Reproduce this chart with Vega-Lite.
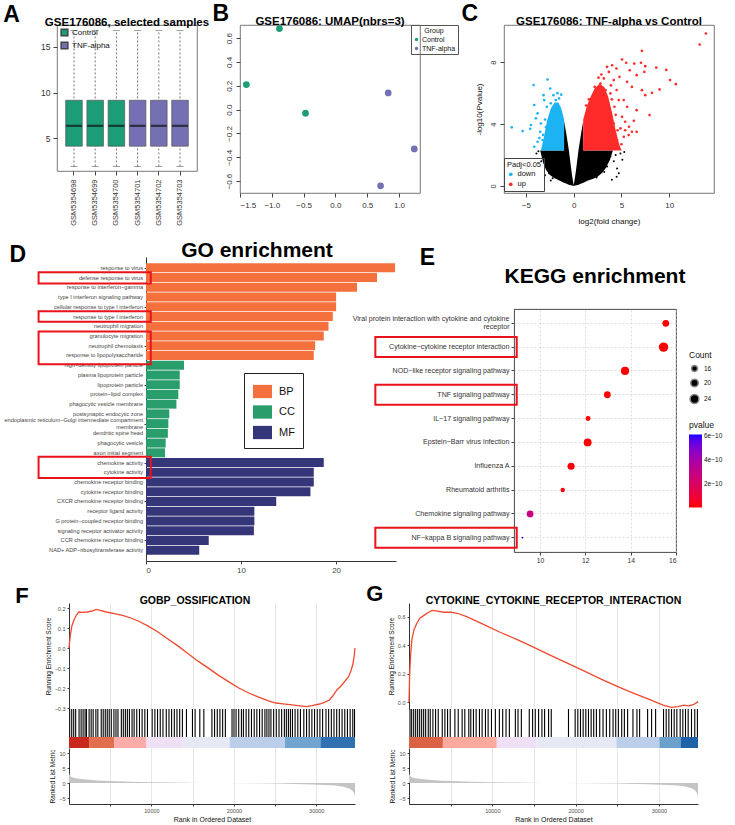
{
  "$schema": "https://vega.github.io/schema/vega-lite/v6.json",
  "background": "white",
  "padding": {"left": 0, "top": 3, "right": 0, "bottom": 0},
  "config": {
    "font": "Liberation Sans",
    "view": {"stroke": null},
    "axis": {"labelFont": "Liberation Sans", "titleFont": "Liberation Sans", "labelColor": "#333", "titleColor": "#111", "tickColor": "#444", "domainColor": "#444", "grid": false, "titleFontWeight": "normal", "labelFontSize": 8, "titleFontSize": 8, "tickSize": 3, "labelPadding": 2, "titlePadding": 4},
    "legend": {"labelFont": "Liberation Sans", "titleFont": "Liberation Sans", "titleFontWeight": "normal", "labelColor": "#111", "titleColor": "#111"},
    "title": {"font": "Liberation Sans", "fontWeight": "bold", "color": "#000"}
  },
  "datasets": {
    "boxes": [
      {"sample": "GSM5354698", "group": "Control", "lo": 1.9, "q1": 4.12, "med": 6.35, "q3": 9.15, "hi": 16.8},
      {"sample": "GSM5354699", "group": "Control", "lo": 1.9, "q1": 4.12, "med": 6.35, "q3": 9.15, "hi": 16.8},
      {"sample": "GSM5354700", "group": "Control", "lo": 1.9, "q1": 4.12, "med": 6.35, "q3": 9.15, "hi": 16.8},
      {"sample": "GSM5354701", "group": "TNF-alpha", "lo": 1.9, "q1": 4.12, "med": 6.35, "q3": 9.15, "hi": 16.8},
      {"sample": "GSM5354702", "group": "TNF-alpha", "lo": 1.9, "q1": 4.12, "med": 6.35, "q3": 9.15, "hi": 16.8},
      {"sample": "GSM5354703", "group": "TNF-alpha", "lo": 1.9, "q1": 4.12, "med": 6.35, "q3": 9.15, "hi": 16.8}
    ],
    "umap": [
      {"umap1": -1.40, "umap2": 0.21, "group": "Control"},
      {"umap1": -0.88, "umap2": 0.68, "group": "Control"},
      {"umap1": -0.47, "umap2": -0.03, "group": "Control"},
      {"umap1": 0.83, "umap2": 0.14, "group": "TNF-alpha"},
      {"umap1": 1.24, "umap2": -0.33, "group": "TNF-alpha"},
      {"umap1": 0.71, "umap2": -0.64, "group": "TNF-alpha"}
    ],
    "volcanoNs": [
      {"lfc": -3.5, "lo": 2.28, "hi": 2.3}, {"lfc": -3.2, "lo": 1.5, "hi": 2.3}, {"lfc": -2.9, "lo": 1.05, "hi": 2.3},
      {"lfc": -2.5, "lo": 0.72, "hi": 2.3}, {"lfc": -2.0, "lo": 0.5, "hi": 2.3}, {"lfc": -1.5, "lo": 0.35, "hi": 2.3},
      {"lfc": -1.02, "lo": 0.22, "hi": 2.3}, {"lfc": -1.0, "lo": 0.22, "hi": 4.2}, {"lfc": -0.75, "lo": 0.14, "hi": 3.3},
      {"lfc": -0.5, "lo": 0.08, "hi": 2.3}, {"lfc": -0.3, "lo": 0.05, "hi": 1.3}, {"lfc": -0.15, "lo": 0.03, "hi": 0.6},
      {"lfc": 0, "lo": 0, "hi": 0.05}, {"lfc": 0.15, "lo": 0.03, "hi": 0.6}, {"lfc": 0.3, "lo": 0.05, "hi": 1.3},
      {"lfc": 0.5, "lo": 0.08, "hi": 2.3}, {"lfc": 0.75, "lo": 0.14, "hi": 3.3}, {"lfc": 1.0, "lo": 0.22, "hi": 4.2},
      {"lfc": 1.02, "lo": 0.22, "hi": 2.3}, {"lfc": 1.5, "lo": 0.35, "hi": 2.3}, {"lfc": 2.0, "lo": 0.45, "hi": 2.3},
      {"lfc": 2.5, "lo": 0.6, "hi": 2.3}, {"lfc": 3.0, "lo": 0.85, "hi": 2.3}, {"lfc": 3.4, "lo": 1.2, "hi": 2.3},
      {"lfc": 3.8, "lo": 1.7, "hi": 2.3}, {"lfc": 4.1, "lo": 2.28, "hi": 2.3}
    ],
    "volcanoCore": [
      {"lfc": -3.4, "lo": 2.3, "hi": 2.4, "dir": "down"}, {"lfc": -3.1, "lo": 2.3, "hi": 3.2, "dir": "down"},
      {"lfc": -2.8, "lo": 2.3, "hi": 4.2, "dir": "down"}, {"lfc": -2.4, "lo": 2.3, "hi": 5.0, "dir": "down"},
      {"lfc": -2.0, "lo": 2.3, "hi": 5.4, "dir": "down"}, {"lfc": -1.6, "lo": 2.3, "hi": 5.4, "dir": "down"},
      {"lfc": -1.3, "lo": 2.3, "hi": 5.0, "dir": "down"}, {"lfc": -1.0, "lo": 2.3, "hi": 4.3, "dir": "down"},
      {"lfc": 1.0, "lo": 2.3, "hi": 4.3, "dir": "up"}, {"lfc": 1.4, "lo": 2.3, "hi": 5.2, "dir": "up"},
      {"lfc": 1.8, "lo": 2.3, "hi": 5.8, "dir": "up"}, {"lfc": 2.2, "lo": 2.3, "hi": 6.3, "dir": "up"},
      {"lfc": 2.7, "lo": 2.3, "hi": 6.6, "dir": "up"}, {"lfc": 3.2, "lo": 2.3, "hi": 6.4, "dir": "up"},
      {"lfc": 3.6, "lo": 2.3, "hi": 5.8, "dir": "up"}, {"lfc": 4.0, "lo": 2.3, "hi": 4.8, "dir": "up"},
      {"lfc": 4.4, "lo": 2.3, "hi": 3.6, "dir": "up"}, {"lfc": 4.8, "lo": 2.3, "hi": 2.6, "dir": "up"},
      {"lfc": 5.0, "lo": 2.3, "hi": 2.35, "dir": "up"}
    ],
    "volcanoNsPts": [
      {"lfc": -3.26, "nlp": 2.2}, {"lfc": -3.09, "nlp": 1.9}, {"lfc": 4.55, "nlp": 1.14}, {"lfc": 4.72, "nlp": 0.82},
      {"lfc": 3.85, "nlp": 1.9}, {"lfc": 3.5, "nlp": 1.26}, {"lfc": -2.74, "nlp": 1.26}, {"lfc": -2.57, "nlp": 0.82},
      {"lfc": -3.4, "nlp": 1.6}, {"lfc": -3.7, "nlp": 2.25}, {"lfc": 4.2, "nlp": 1.6}, {"lfc": 4.9, "nlp": 2.1},
      {"lfc": 3.2, "nlp": 0.9}, {"lfc": -2.2, "nlp": 0.5}, {"lfc": 2.4, "nlp": 0.55}, {"lfc": 5.1, "nlp": 1.7},
      {"lfc": -3.9, "nlp": 2.1}, {"lfc": 4.5, "nlp": 0.6}, {"lfc": 5.3, "nlp": 2.2}, {"lfc": 4.0, "nlp": 0.4},
      {"lfc": -3.0, "nlp": 0.7}, {"lfc": 4.4, "nlp": 2.0}, {"lfc": -2.4, "nlp": 0.35}
    ],
    "volcanoPts": [
      {"lfc": 13.85, "nlp": 9.85, "dir": "up"}, {"lfc": 13.2, "nlp": 9.14, "dir": "up"}, {"lfc": 7.15, "nlp": 8.73, "dir": "up"},
      {"lfc": 5.07, "nlp": 8.17, "dir": "up"}, {"lfc": 5.5, "nlp": 7.96, "dir": "up"}, {"lfc": 6.35, "nlp": 7.91, "dir": "up"},
      {"lfc": 7.05, "nlp": 7.96, "dir": "up"}, {"lfc": 7.5, "nlp": 7.74, "dir": "up"}, {"lfc": 8.65, "nlp": 7.65, "dir": "up"},
      {"lfc": 9.7, "nlp": 7.5, "dir": "up"}, {"lfc": 10.1, "nlp": 6.84, "dir": "up"}, {"lfc": 10.7, "nlp": 6.58, "dir": "up"},
      {"lfc": 9.0, "nlp": 6.24, "dir": "up"}, {"lfc": 8.2, "nlp": 6.02, "dir": "up"}, {"lfc": 7.5, "nlp": 5.87, "dir": "up"},
      {"lfc": 7.15, "nlp": 6.19, "dir": "up"}, {"lfc": 7.95, "nlp": 4.58, "dir": "up"}, {"lfc": 6.6, "nlp": 4.9, "dir": "up"},
      {"lfc": 6.3, "nlp": 4.21, "dir": "up"}, {"lfc": 6.1, "nlp": 3.5, "dir": "up"}, {"lfc": 5.8, "nlp": 3.83, "dir": "up"},
      {"lfc": 5.25, "nlp": 3.18, "dir": "up"}, {"lfc": 5.07, "nlp": 4.47, "dir": "up"}, {"lfc": 4.55, "nlp": 2.97, "dir": "up"},
      {"lfc": 4.8, "nlp": 7.05, "dir": "up"}, {"lfc": 4.48, "nlp": 7.59, "dir": "up"}, {"lfc": 5.87, "nlp": 7.48, "dir": "up"},
      {"lfc": 6.6, "nlp": 7.16, "dir": "up"}, {"lfc": 7.4, "nlp": 7.37, "dir": "up"}, {"lfc": 5.6, "nlp": 6.73, "dir": "up"},
      {"lfc": 6.1, "nlp": 6.4, "dir": "up"}, {"lfc": 4.2, "nlp": 6.84, "dir": "up"}, {"lfc": 4.03, "nlp": 7.8, "dir": "up"},
      {"lfc": 3.5, "nlp": 7.7, "dir": "up"}, {"lfc": 3.68, "nlp": 7.37, "dir": "up"}, {"lfc": 3.16, "nlp": 6.95, "dir": "up"},
      {"lfc": 2.81, "nlp": 6.62, "dir": "up"}, {"lfc": 4.72, "nlp": 5.55, "dir": "up"}, {"lfc": 5.24, "nlp": 5.55, "dir": "up"},
      {"lfc": 5.6, "nlp": 5.12, "dir": "up"}, {"lfc": 4.27, "nlp": 5.12, "dir": "up"}, {"lfc": 3.85, "nlp": 5.98, "dir": "up"},
      {"lfc": 3.33, "nlp": 6.19, "dir": "up"}, {"lfc": 2.47, "nlp": 5.98, "dir": "up"}, {"lfc": 1.95, "nlp": 5.55, "dir": "up"},
      {"lfc": 1.77, "nlp": 5.12, "dir": "up"}, {"lfc": 4.9, "nlp": 3.72, "dir": "up"}, {"lfc": 4.2, "nlp": 4.04, "dir": "up"},
      {"lfc": 5.4, "nlp": 4.15, "dir": "up"}, {"lfc": 6.6, "nlp": 3.5, "dir": "up"}, {"lfc": 5.76, "nlp": 3.29, "dir": "up"},
      {"lfc": 4.72, "nlp": 2.54, "dir": "up"}, {"lfc": 3.85, "nlp": 2.75, "dir": "up"}, {"lfc": 3.5, "nlp": 3.5, "dir": "up"},
      {"lfc": 3.44, "nlp": 4.26, "dir": "up"}, {"lfc": 3.0, "nlp": 4.9, "dir": "up"}, {"lfc": 2.2, "nlp": 6.4, "dir": "up"},
      {"lfc": 2.9, "nlp": 7.2, "dir": "up"}, {"lfc": 3.9, "nlp": 6.5, "dir": "up"}, {"lfc": 4.5, "nlp": 6.2, "dir": "up"},
      {"lfc": 4.0, "nlp": 5.6, "dir": "up"}, {"lfc": 4.4, "nlp": 4.6, "dir": "up"}, {"lfc": 3.8, "nlp": 4.0, "dir": "up"},
      {"lfc": 4.1, "nlp": 3.2, "dir": "up"}, {"lfc": 3.7, "nlp": 2.6, "dir": "up"}, {"lfc": 5.0, "nlp": 2.7, "dir": "up"},
      {"lfc": 5.4, "nlp": 3.6, "dir": "up"}, {"lfc": 4.6, "nlp": 3.6, "dir": "up"}, {"lfc": 2.6, "nlp": 7.0, "dir": "up"},
      {"lfc": 1.6, "nlp": 5.6, "dir": "up"}, {"lfc": 1.3, "nlp": 5.2, "dir": "up"},
      {"lfc": -6.49, "nlp": 3.79, "dir": "down"}, {"lfc": -5.35, "nlp": 3.55, "dir": "down"}, {"lfc": -4.48, "nlp": 3.94, "dir": "down"},
      {"lfc": -4.2, "nlp": 6.52, "dir": "down"}, {"lfc": -2.74, "nlp": 6.88, "dir": "down"}, {"lfc": -2.46, "nlp": 6.3, "dir": "down"},
      {"lfc": -3.16, "nlp": 5.87, "dir": "down"}, {"lfc": -3.09, "nlp": 5.55, "dir": "down"}, {"lfc": -4.13, "nlp": 5.23, "dir": "down"},
      {"lfc": -3.78, "nlp": 4.69, "dir": "down"}, {"lfc": -3.44, "nlp": 4.04, "dir": "down"}, {"lfc": -4.13, "nlp": 2.54, "dir": "down"},
      {"lfc": -3.78, "nlp": 2.86, "dir": "down"}, {"lfc": -3.26, "nlp": 2.97, "dir": "down"}, {"lfc": -3.51, "nlp": 3.5, "dir": "down"},
      {"lfc": -3.96, "nlp": 4.37, "dir": "down"}, {"lfc": -4.55, "nlp": 3.7, "dir": "down"}, {"lfc": -1.88, "nlp": 5.55, "dir": "down"},
      {"lfc": -2.05, "nlp": 4.9, "dir": "down"}, {"lfc": -2.81, "nlp": 5.12, "dir": "down"}, {"lfc": -2.4, "nlp": 5.34, "dir": "down"},
      {"lfc": -1.53, "nlp": 5.66, "dir": "down"}, {"lfc": -2.12, "nlp": 5.87, "dir": "down"}, {"lfc": -3.0, "nlp": 4.3, "dir": "down"},
      {"lfc": -3.2, "nlp": 3.3, "dir": "down"}, {"lfc": -2.9, "nlp": 3.8, "dir": "down"}, {"lfc": -3.6, "nlp": 3.1, "dir": "down"},
      {"lfc": -2.7, "nlp": 2.6, "dir": "down"}, {"lfc": -1.3, "nlp": 5.9, "dir": "down"}, {"lfc": -1.7, "nlp": 6.0, "dir": "down"}
    ],
    "go": [
      {"idx": 1, "term": "response to virus", "cat": "BP", "value": 26.2},
      {"idx": 2, "term": "defense response to virus", "cat": "BP", "value": 24.3},
      {"idx": 3, "term": "response to interferon−gamma", "cat": "BP", "value": 22.2},
      {"idx": 4, "term": "type I interferon signaling pathway", "cat": "BP", "value": 20.0},
      {"idx": 5, "term": "cellular response to type I interferon", "cat": "BP", "value": 20.0},
      {"idx": 6, "term": "response to type I interferon", "cat": "BP", "value": 19.65},
      {"idx": 7, "term": "neutrophil migration", "cat": "BP", "value": 19.2},
      {"idx": 8, "term": "granulocyte migration", "cat": "BP", "value": 18.7},
      {"idx": 9, "term": "neutrophil chemotaxis", "cat": "BP", "value": 17.8},
      {"idx": 10, "term": "response to lipopolysaccharide", "cat": "BP", "value": 17.65},
      {"idx": 11, "term": "high−density lipoprotein particle", "cat": "CC", "value": 4.0},
      {"idx": 12, "term": "plasma lipoprotein particle", "cat": "CC", "value": 3.55},
      {"idx": 13, "term": "lipoprotein particle", "cat": "CC", "value": 3.55},
      {"idx": 14, "term": "protein−lipid complex", "cat": "CC", "value": 3.4},
      {"idx": 15, "term": "phagocytic vesicle membrane", "cat": "CC", "value": 3.2},
      {"idx": 16, "term": "postsynaptic endocytic zone", "cat": "CC", "value": 2.45},
      {"idx": 17, "term": ["endoplasmic reticulum−Golgi intermediate compartment", "membrane"], "cat": "CC", "value": 2.35},
      {"idx": 18, "term": "dendritic spine head", "cat": "CC", "value": 2.3},
      {"idx": 19, "term": "phagocytic vesicle", "cat": "CC", "value": 2.07},
      {"idx": 20, "term": "axon initial segment", "cat": "CC", "value": 2.0},
      {"idx": 21, "term": "chemokine activity", "cat": "MF", "value": 18.7},
      {"idx": 22, "term": "cytokine activity", "cat": "MF", "value": 17.65},
      {"idx": 23, "term": "chemokine receptor binding", "cat": "MF", "value": 17.65},
      {"idx": 24, "term": "cytokine receptor binding", "cat": "MF", "value": 17.3},
      {"idx": 25, "term": "CXCR chemokine receptor binding", "cat": "MF", "value": 13.7},
      {"idx": 26, "term": "receptor ligand activity", "cat": "MF", "value": 11.4},
      {"idx": 27, "term": "G protein−coupled receptor binding", "cat": "MF", "value": 11.4},
      {"idx": 28, "term": "signaling receptor activator activity", "cat": "MF", "value": 11.35},
      {"idx": 29, "term": "CCR chemokine receptor binding", "cat": "MF", "value": 6.6},
      {"idx": 30, "term": "NAD+ ADP−ribosyltransferase activity", "cat": "MF", "value": 5.6}
    ],
    "goBoxes": [
      {"x1": -11.3, "x2": 0.5, "y1": 1.45, "y2": 2.6},
      {"x1": -11.3, "x2": 0.5, "y1": 5.45, "y2": 6.55},
      {"x1": -11.3, "x2": 0.5, "y1": 7.55, "y2": 10.9},
      {"x1": -11.3, "x2": 0.5, "y1": 20.4, "y2": 22.6}
    ],
    "kegg": [
      {"term": "Viral protein interaction with cytokine and cytokine receptor", "nlp": 15.55, "count": 18, "p": 2.8e-16},
      {"term": "Cytokine−cytokine receptor interaction", "nlp": 15.45, "count": 26, "p": 3.5e-16},
      {"term": "NOD−like receptor signaling pathway", "nlp": 13.75, "count": 22, "p": 1.8e-14},
      {"term": "TNF signaling pathway", "nlp": 12.97, "count": 18, "p": 1.1e-13},
      {"term": "IL−17 signaling pathway", "nlp": 12.12, "count": 14, "p": 7.6e-13},
      {"term": "Epstein−Barr virus infection", "nlp": 12.1, "count": 21, "p": 7.9e-13},
      {"term": "Influenza A", "nlp": 11.37, "count": 19, "p": 4.3e-12},
      {"term": "Rheumatoid arthritis", "nlp": 11.0, "count": 13, "p": 1.0e-11},
      {"term": "Chemokine signaling pathway", "nlp": 9.56, "count": 18, "p": 2.75e-10},
      {"term": "NF−kappa B signaling pathway", "nlp": 9.22, "count": 10, "p": 6.05e-10}
    ],
    "keggBoxes": [
      {"term": "Cytokine−cytokine receptor interaction", "a": 2.73, "b": 8.97},
      {"term": "TNF signaling pathway", "a": 2.73, "b": 8.97},
      {"term": "NF−kappa B signaling pathway", "a": 2.73, "b": 8.97}
    ],
    "esF": [
      {"rank": 0, "es": 0.0}, {"rank": 150, "es": 0.06}, {"rank": 350, "es": 0.11}, {"rank": 600, "es": 0.14},
      {"rank": 900, "es": 0.165}, {"rank": 1200, "es": 0.18}, {"rank": 1600, "es": 0.178}, {"rank": 2200, "es": 0.18},
      {"rank": 2800, "es": 0.185}, {"rank": 3300, "es": 0.193}, {"rank": 3800, "es": 0.188}, {"rank": 4500, "es": 0.18},
      {"rank": 5500, "es": 0.172}, {"rank": 6500, "es": 0.163}, {"rank": 7500, "es": 0.15}, {"rank": 8400, "es": 0.135},
      {"rank": 9500, "es": 0.112}, {"rank": 10800, "es": 0.08}, {"rank": 12000, "es": 0.045}, {"rank": 13300, "es": 0.008},
      {"rank": 14500, "es": -0.03}, {"rank": 15700, "es": -0.067}, {"rank": 17000, "es": -0.103}, {"rank": 18200, "es": -0.138},
      {"rank": 19500, "es": -0.172}, {"rank": 20600, "es": -0.2}, {"rank": 21800, "es": -0.225}, {"rank": 23100, "es": -0.247},
      {"rank": 24200, "es": -0.264}, {"rank": 25100, "es": -0.275}, {"rank": 26000, "es": -0.279}, {"rank": 26800, "es": -0.283},
      {"rank": 27800, "es": -0.288}, {"rank": 28800, "es": -0.293}, {"rank": 29500, "es": -0.288}, {"rank": 30400, "es": -0.28},
      {"rank": 31000, "es": -0.272}, {"rank": 31600, "es": -0.26}, {"rank": 32000, "es": -0.24}, {"rank": 32500, "es": -0.21},
      {"rank": 33000, "es": -0.19}, {"rank": 33400, "es": -0.17}, {"rank": 33900, "es": -0.145}, {"rank": 34200, "es": -0.115},
      {"rank": 34450, "es": -0.08}, {"rank": 34600, "es": -0.04}, {"rank": 34700, "es": 0.0}
    ],
    "esG": [
      {"rank": 0, "es": 0.0}, {"rank": 80, "es": 0.2}, {"rank": 200, "es": 0.34}, {"rank": 350, "es": 0.44},
      {"rank": 600, "es": 0.51}, {"rank": 900, "es": 0.55}, {"rank": 1300, "es": 0.59}, {"rank": 1800, "es": 0.61},
      {"rank": 2300, "es": 0.63}, {"rank": 2800, "es": 0.645}, {"rank": 3400, "es": 0.64}, {"rank": 4200, "es": 0.632},
      {"rank": 5000, "es": 0.633}, {"rank": 5800, "es": 0.625}, {"rank": 7000, "es": 0.6}, {"rank": 9000, "es": 0.545},
      {"rank": 11000, "es": 0.49}, {"rank": 13000, "es": 0.44}, {"rank": 15000, "es": 0.385}, {"rank": 17000, "es": 0.33},
      {"rank": 19000, "es": 0.275}, {"rank": 21000, "es": 0.22}, {"rank": 23000, "es": 0.165}, {"rank": 25000, "es": 0.112},
      {"rank": 27000, "es": 0.063}, {"rank": 29000, "es": 0.017}, {"rank": 30500, "es": -0.02}, {"rank": 31500, "es": -0.035},
      {"rank": 32300, "es": -0.03}, {"rank": 33000, "es": -0.02}, {"rank": 33600, "es": -0.025}, {"rank": 34200, "es": -0.015},
      {"rank": 34700, "es": 0.005}
    ],
    "hitsF": [80, 330, 570, 810, 1220, 1470, 1710, 1950, 2120, 2440, 2690, 2930, 3260, 3500, 3910, 4150, 4400, 4640, 4880, 5130, 5450, 5700, 5940, 6350, 6590, 6840, 7080, 7330, 7650, 7900, 8220, 8550, 8870, 9200, 9520, 10090, 10420, 10740, 11070, 11400, 11800, 12130, 12450, 12780, 13100, 13430, 13760, 14250, 14980, 15300, 15870, 16360, 17340, 17660, 17990, 18310, 18640, 18970, 19780, 20020, 20270, 20590, 20920, 21160, 21490, 21810, 22140, 22470, 22790, 23120, 23440, 23770, 24010, 24260, 24500, 24830, 25150, 25480, 25800, 26130, 26370, 26620, 26860, 27110, 27430, 27760, 28080, 28490, 28820, 29140, 29470, 29790, 30120, 30440, 30770, 31180, 31500, 31830, 32150, 32480, 32800, 33130, 33460, 33780, 34110, 34430, 34640],
    "hitsG": [120, 320, 560, 800, 1040, 1280, 1520, 1760, 2000, 2310, 2550, 2870, 3190, 3510, 3990, 4310, 4630, 4950, 5510, 5910, 6380, 6700, 7180, 7420, 7740, 8060, 8460, 8780, 9180, 9500, 9900, 10370, 10850, 11250, 11650, 12050, 12770, 13090, 13490, 14440, 14840, 15160, 15560, 15960, 16280, 16760, 17080, 19150, 19950, 20270, 20590, 20910, 21230, 21550, 21870, 22180, 22500, 22900, 23300, 23700, 24100, 24500, 24820, 25140, 25540, 25860, 26250, 26890, 27370, 27690, 28650, 29130, 29610, 30560, 30880, 31200, 31520, 31840, 32160, 32560, 32880, 33200, 33520, 33920, 34310, 34630],
    "stripF": [
      {"start": 0, "end": 2440, "level": 1.0}, {"start": 2440, "end": 5490, "level": 0.75},
      {"start": 5490, "end": 9400, "level": 0.42}, {"start": 9400, "end": 13800, "level": 0.12},
      {"start": 13800, "end": 19500, "level": -0.08}, {"start": 19500, "end": 26200, "level": -0.3},
      {"start": 26200, "end": 30500, "level": -0.62}, {"start": 30500, "end": 34700, "level": -0.92}
    ],
    "stripG": [
      {"start": 0, "end": 4070, "level": 0.8}, {"start": 4070, "end": 10540, "level": 0.45},
      {"start": 10540, "end": 15330, "level": 0.12}, {"start": 15330, "end": 24900, "level": -0.08},
      {"start": 24900, "end": 30060, "level": -0.3}, {"start": 30060, "end": 32600, "level": -0.65},
      {"start": 32600, "end": 34700, "level": -1.0}
    ],
    "metric": [
      {"rank": 0, "m": 3.5}, {"rank": 60, "m": 2.8}, {"rank": 200, "m": 2.2}, {"rank": 500, "m": 1.8},
      {"rank": 1000, "m": 1.5}, {"rank": 2000, "m": 1.15}, {"rank": 3500, "m": 0.85}, {"rank": 5000, "m": 0.65},
      {"rank": 7500, "m": 0.42}, {"rank": 10000, "m": 0.27}, {"rank": 13000, "m": 0.14}, {"rank": 16000, "m": 0.05},
      {"rank": 19000, "m": 0.0}, {"rank": 22000, "m": -0.08}, {"rank": 25000, "m": -0.18}, {"rank": 27500, "m": -0.3},
      {"rank": 29500, "m": -0.45}, {"rank": 31000, "m": -0.62}, {"rank": 32300, "m": -0.85}, {"rank": 33300, "m": -1.2},
      {"rank": 34000, "m": -1.8}, {"rank": 34400, "m": -2.6}, {"rank": 34600, "m": -3.5}, {"rank": 34700, "m": -4.5}
    ]
  },
  "resolve": {"scale": {"color": "independent", "size": "independent"}, "legend": {"color": "independent", "size": "independent"}},
  "spacing": 4,
  "vconcat": [
    {
      "spacing": 2,
      "resolve": {"scale": {"color": "independent", "size": "independent"}, "legend": {"color": "independent", "size": "independent"}},
      "hconcat": [
        {"width": 1, "height": 211, "data": {"values": []}, "mark": "point"},
        {
          "title": {"text": "A", "fontSize": 23, "anchor": "start", "frame": "bounds", "dx": -37, "offset": -11},
          "vconcat": [
            {
              "title": {"text": "GSE176086, selected samples", "fontSize": 11.5, "frame": "group", "offset": -3},
              "width": 140, "height": 146,
              "view": {"stroke": "#555", "strokeWidth": 0.8},
              "data": {"name": "boxes"},
              "encoding": {
                "x": {"field": "sample", "type": "nominal", "sort": null, "scale": {"paddingInner": 0, "paddingOuter": 0.3},
                      "axis": {"title": null, "labelAngle": -90, "labelFontSize": 7.5, "tickSize": 4, "domain": false, "labelPadding": 4}}
              },
              "layer": [
                {"mark": {"type": "rule", "strokeDash": [2, 2], "color": "#555", "strokeWidth": 0.8},
                 "encoding": {
                   "y": {"field": "lo", "type": "quantitative", "scale": {"domain": [1.4, 17.4], "nice": false, "zero": false},
                         "axis": {"title": null, "values": [5, 10, 15], "labelFontSize": 8.5, "tickSize": 4, "domain": false, "labelPadding": 3}},
                   "y2": {"field": "hi"}}},
                {"mark": {"type": "tick", "color": "#555", "thickness": 0.8, "size": 7}, "encoding": {"y": {"field": "lo", "type": "quantitative"}}},
                {"mark": {"type": "tick", "color": "#555", "thickness": 0.8, "size": 7}, "encoding": {"y": {"field": "hi", "type": "quantitative"}}},
                {"mark": {"type": "bar", "width": {"band": 0.78}, "stroke": "#555", "strokeWidth": 0.7},
                 "encoding": {
                   "y": {"field": "q1", "type": "quantitative"}, "y2": {"field": "q3"},
                   "color": {"field": "group", "type": "nominal", "scale": {"domain": ["Control", "TNF-alpha"], "range": ["#1B9E77", "#7570B3"]},
                             "legend": {"title": null, "orient": "top-left", "offset": 3, "labelFontSize": 8, "symbolType": "square", "symbolSize": 45, "symbolStrokeColor": "#444", "rowPadding": 0, "labelOffset": 3, "padding": 0}}}},
                {"mark": {"type": "tick", "color": "#111", "thickness": 2.2, "size": 16}, "encoding": {"y": {"field": "med", "type": "quantitative"}}}
              ]
            }
          ]
        },
        {
          "title": {"text": "B", "fontSize": 23, "anchor": "start", "frame": "bounds", "dx": -12, "offset": -11},
          "vconcat": [
            {
              "title": {"text": "GSE176086: UMAP(nbrs=3)", "fontSize": 11.5, "frame": "group", "offset": -2},
              "width": 180, "height": 168,
              "view": {"stroke": "#555", "strokeWidth": 0.8},
              "data": {"name": "umap"},
              "mark": {"type": "circle", "size": 45, "opacity": 1},
              "encoding": {
                "x": {"field": "umap1", "type": "quantitative", "scale": {"domain": [-1.5, 1.33], "nice": false, "zero": false},
                      "axis": {"title": null, "values": [-1.5, -1, -0.5, 0, 0.5, 1], "format": ".1f", "labelFontSize": 8, "tickSize": 4, "domain": false, "labelPadding": 4}},
                "y": {"field": "umap2", "type": "quantitative", "scale": {"domain": [-0.7, 0.71], "nice": false, "zero": false},
                      "axis": {"title": null, "values": [-0.6, -0.4, -0.2, 0, 0.2, 0.4, 0.6], "format": ".1f", "labelAngle": -90, "labelFontSize": 8, "tickSize": 4, "domain": false, "labelPadding": 3}},
                "color": {"field": "group", "type": "nominal", "scale": {"domain": ["Control", "TNF-alpha"], "range": ["#1B9E77", "#7570B3"]},
                          "legend": {"title": "Group", "orient": "right", "offset": -10, "strokeColor": "#555", "padding": 2, "titleFontSize": 7, "titleAnchor": "middle", "labelFontSize": 7, "symbolSize": 12, "rowPadding": 1, "titlePadding": 2, "labelOffset": 2}}
              }
            }
          ]
        },
        {
          "title": {"text": "C", "fontSize": 23, "anchor": "start", "frame": "bounds", "dx": -13, "offset": -11},
          "vconcat": [
            {
              "title": {"text": "GSE176086: TNF-alpha vs Control", "fontSize": 11.5, "frame": "group", "offset": -2},
              "width": 210, "height": 168,
              "view": {"stroke": "#555", "strokeWidth": 0.8},
              "layer": [
                {"data": {"name": "volcanoNs"}, "mark": {"type": "area", "color": "#000"},
                 "encoding": {
                   "x": {"field": "lfc", "type": "quantitative", "scale": {"domain": [-7.3, 14.7], "nice": false, "zero": false},
                         "axis": {"title": "log2(fold change)", "values": [-5, 0, 5, 10], "labelFontSize": 8, "titleFontSize": 8, "tickSize": 4, "domain": false, "labelPadding": 4, "titlePadding": 8}},
                   "y": {"field": "hi", "type": "quantitative", "scale": {"domain": [-0.45, 10.4], "nice": false, "zero": false},
                         "axis": {"title": "-log10(Pvalue)", "values": [0, 2, 4, 6, 8, 10], "labelAngle": -90, "labelFontSize": 7.5, "titleFontSize": 8, "tickSize": 4, "domain": false, "labelPadding": 3, "titlePadding": 6}},
                   "y2": {"field": "lo"}}},
                {"data": {"name": "volcanoCore"}, "mark": {"type": "area"},
                 "encoding": {
                   "x": {"field": "lfc", "type": "quantitative"},
                   "y": {"field": "hi", "type": "quantitative"}, "y2": {"field": "lo"},
                   "color": {"field": "dir", "type": "nominal", "scale": {"domain": ["down", "up"], "range": ["#1CB3F2", "#FF2B2B"]},
                             "legend": {"title": "Padj<0.05", "orient": "none", "legendX": 0, "legendY": 133, "strokeColor": "#444", "padding": 3, "titleFontSize": 7.5, "labelFontSize": 7.5, "symbolType": "circle", "symbolSize": 14, "rowPadding": 1, "titlePadding": 2, "labelOffset": 3}}}},
                {"data": {"name": "volcanoNsPts"}, "mark": {"type": "circle", "size": 4, "color": "#000", "opacity": 1},
                 "encoding": {"x": {"field": "lfc", "type": "quantitative"}, "y": {"field": "nlp", "type": "quantitative"}}},
                {"data": {"name": "volcanoPts"}, "mark": {"type": "circle", "size": 7, "opacity": 1},
                 "encoding": {"x": {"field": "lfc", "type": "quantitative"}, "y": {"field": "nlp", "type": "quantitative"}, "color": {"field": "dir", "type": "nominal"}}}
              ]
            }
          ]
        }
      ]
    },
    {
      "spacing": -45,
      "resolve": {"scale": {"color": "independent", "size": "independent"}, "legend": {"color": "independent", "size": "independent"}},
      "hconcat": [
        {"width": 49, "height": 321, "data": {"values": []}, "mark": "point"},
        {
          "title": {"text": "D", "fontSize": 23, "anchor": "start", "frame": "bounds", "dx": 5, "offset": -27},
          "vconcat": [
            {
              "title": {"text": "GO enrichment", "fontSize": 21, "frame": "group", "dx": -14, "offset": -4},
              "width": 250, "height": 304,
              "layer": [
                {"data": {"name": "go"}, "mark": {"type": "bar", "orient": "horizontal", "size": 9},
                 "encoding": {
                   "x": {"field": "value", "type": "quantitative", "scale": {"domain": [0, 26.3], "nice": false},
                         "axis": {"title": null, "values": [0, 10, 20], "labelFontSize": 8, "tickSize": 3, "domainColor": "#333", "labelColor": "#444"}},
                   "y": {"field": "idx", "type": "quantitative", "scale": {"domain": [0.4, 30.6], "reverse": true, "nice": false, "zero": false},
                         "axis": {"title": null, "labels": false, "values": [1, 2, 3, 4, 5, 6, 7, 8, 9, 10, 11, 12, 13, 14, 15, 16, 17, 18, 19, 20, 21, 22, 23, 24, 25, 26, 27, 28, 29, 30], "tickSize": 2, "domainColor": "#333"}},
                   "color": {"field": "cat", "type": "nominal", "scale": {"domain": ["BP", "CC", "MF"], "range": ["#F4703D", "#2A9D6D", "#35357A"]},
                             "legend": {"title": null, "orient": "none", "legendX": 98, "legendY": 116, "strokeColor": "#222", "padding": 8, "labelFontSize": 11, "symbolType": "M-1,-0.7H1V0.7H-1Z", "symbolSize": 361, "rowPadding": 2.5, "labelOffset": 6}}}},
                {"data": {"name": "go"}, "transform": [{"filter": "datum.idx != 17"}],
                 "mark": {"type": "text", "align": "right", "baseline": "middle", "dx": -3, "fontSize": 5.6, "color": "#444"},
                 "encoding": {"x": {"datum": 0, "type": "quantitative"}, "y": {"field": "idx", "type": "quantitative"}, "text": {"field": "term"}}},
                {"data": {"name": "go"}, "transform": [{"filter": "datum.idx == 17"}],
                 "mark": {"type": "text", "align": "right", "baseline": "middle", "dx": -3, "dy": -3.3, "fontSize": 5.6, "color": "#444", "lineHeight": 6.6},
                 "encoding": {"x": {"datum": 0, "type": "quantitative"}, "y": {"field": "idx", "type": "quantitative"}, "text": {"field": "term"}}},
                {"data": {"name": "goBoxes"}, "mark": {"type": "rect", "filled": false, "color": "#E8131B", "strokeWidth": 2},
                 "encoding": {"x": {"field": "x1", "type": "quantitative"}, "x2": {"field": "x2"}, "y": {"field": "y1", "type": "quantitative"}, "y2": {"field": "y2"}}}
              ]
            }
          ]
        },
        {
          "title": {"text": "E", "fontSize": 23, "anchor": "start", "frame": "bounds", "dx": 68, "offset": -13},
          "spacing": 0,
          "vconcat": [
            {"width": 1, "height": 8, "data": {"values": []}, "mark": "point"},
            {
              "title": {"text": "KEGG enrichment", "fontSize": 21, "frame": "group", "offset": 22},
              "width": 162, "height": 243,
              "view": {"stroke": "#333", "strokeWidth": 0.9},
              "encoding": {
                "y": {"field": "term", "type": "nominal",
                      "scale": {"domain": ["Viral protein interaction with cytokine and cytokine receptor", "Cytokine−cytokine receptor interaction", "NOD−like receptor signaling pathway", "TNF signaling pathway", "IL−17 signaling pathway", "Epstein−Barr virus infection", "Influenza A", "Rheumatoid arthritis", "Chemokine signaling pathway", "NF−kappa B signaling pathway"], "paddingInner": 0, "paddingOuter": 0.1},
                      "axis": {"title": null, "labelFontSize": 7.1, "labelColor": "#333", "tickSize": 3, "domain": false, "grid": true, "gridDash": [2, 2], "gridColor": "#C8C8C8", "gridWidth": 0.6, "bandPosition": 0.5, "labelLimit": 300, "labelLineHeight": 8,
                               "labelOffset": {"condition": {"test": "datum.value == 'Viral protein interaction with cytokine and cytokine receptor'", "value": -4}, "value": 0},
                               "labelExpr": "datum.value == 'Viral protein interaction with cytokine and cytokine receptor' ? ['Viral protein interaction with cytokine and cytokine', 'receptor'] : datum.label"}}
              },
              "layer": [
                {"data": {"name": "keggBoxes"}, "mark": {"type": "bar", "orient": "horizontal", "height": {"band": 0.84}, "filled": false, "color": "#E8131B", "strokeWidth": 2},
                 "encoding": {
                   "x": {"field": "a", "type": "quantitative", "scale": {"domain": [8.85, 16.0], "nice": false, "zero": false},
                         "axis": {"title": null, "values": [10, 12, 14, 16], "labelFontSize": 6.8, "tickSize": 3, "domain": false, "grid": true, "gridDash": [2, 2], "gridColor": "#C8C8C8", "gridWidth": 0.6}},
                   "x2": {"field": "b"}}},
                {"data": {"name": "kegg"}, "mark": {"type": "circle", "opacity": 1},
                 "encoding": {
                   "x": {"field": "nlp", "type": "quantitative", "axis": {"title": null}},
                   "size": {"field": "count", "type": "quantitative", "scale": {"domain": [10, 26], "range": [3, 89], "zero": false},
                            "legend": {"title": "Count", "orient": "none", "legendX": 175, "legendY": 94, "values": [16, 20, 24], "titleFontSize": 8.5, "labelFontSize": 6.5, "symbolFillColor": "#000", "rowPadding": 1.5}},
                   "color": {"field": "p", "type": "quantitative", "scale": {"domain": [0, 6.1e-10], "range": ["#FF0000", "#0000FF"], "interpolate": "lab"},
                             "legend": {"title": "pvalue", "orient": "none", "legendX": 175, "legendY": 164, "values": [2e-10, 4e-10, 6e-10], "gradientLength": 73, "gradientThickness": 13, "titleFontSize": 8.5, "labelFontSize": 6.5, "labelExpr": "replace(format(datum.value, '.0e'), '-', '−')", "direction": "vertical"}}
                 }}
              ]
            }
          ]
        }
      ]
    },
    {
      "spacing": 8,
      "resolve": {"scale": {"color": "independent", "size": "independent"}, "legend": {"color": "independent", "size": "independent"}},
      "hconcat": [
        {"width": 7, "height": 1, "data": {"values": []}, "mark": "point"},
        {
          "title": {"text": "F", "fontSize": 22, "anchor": "start", "frame": "bounds", "dx": -30, "offset": -12},
          "spacing": 0, "bounds": "flush",
          "resolve": {"scale": {"color": "independent"}},
          "vconcat": [
            {
              "title": {"text": "GOBP_OSSIFICATION", "fontSize": 10.5, "frame": "group", "dx": -17, "offset": -3},
              "width": 286, "height": 106,
              "data": {"name": "esF"},
              "mark": {"type": "line", "color": "#EF4A2F", "strokeWidth": 1.3},
              "encoding": {
                "x": {"field": "rank", "type": "quantitative", "scale": {"domain": [0, 34700], "nice": false, "zero": false},
                      "axis": {"title": null, "labels": false, "ticks": false, "domain": false, "grid": true, "gridColor": "#E6E6E6", "values": [5000, 10000, 15000, 20000, 25000, 30000]}},
                "y": {"field": "es", "type": "quantitative", "scale": {"domain": [-0.305, 0.225], "nice": false, "zero": false},
                      "axis": {"title": "Running Enrichment Score", "values": [-0.3, -0.2, -0.1, 0, 0.1, 0.2], "format": ".1f", "labelFontSize": 5.5, "titleFontSize": 6.5, "tickSize": 2, "domainColor": "#333", "labelColor": "#4D4D4D", "titlePadding": 3}}
              }
            },
            {
              "width": 286, "height": 28,
              "data": {"name": "hitsF"},
              "mark": {"type": "rule", "color": "#000", "strokeWidth": 1.1},
              "encoding": {"x": {"field": "data", "type": "quantitative", "scale": {"domain": [0, 34700], "nice": false, "zero": false}, "axis": null}}
            },
            {
              "width": 286, "height": 11,
              "data": {"name": "stripF"},
              "mark": {"type": "rect"},
              "encoding": {
                "x": {"field": "start", "type": "quantitative", "scale": {"domain": [0, 34700], "nice": false, "zero": false}, "axis": null},
                "x2": {"field": "end"},
                "color": {"field": "level", "type": "quantitative", "scale": {"domain": [-1, -0.5, 0, 0.5, 1], "range": ["#1E62A8", "#8CBBDC", "#F2F2F8", "#F4A688", "#C8281E"]}, "legend": null}
              }
            },
            {
              "width": 286, "height": 56,
              "data": {"name": "metric"},
              "mark": {"type": "area", "color": "#C4C4C4"},
              "encoding": {
                "x": {"field": "rank", "type": "quantitative", "scale": {"domain": [0, 34700], "nice": false, "zero": false},
                      "axis": {"title": "Rank in Ordered Dataset", "values": [5000, 10000, 15000, 20000, 25000, 30000], "format": "d", "labelExpr": "datum.value % 10000 == 0 ? datum.label : ''", "labelFontSize": 5.5, "titleFontSize": 7, "tickSize": 2, "grid": true, "gridColor": "#E6E6E6", "domainColor": "#333", "labelColor": "#4D4D4D", "titlePadding": 2}},
                "y": {"field": "m", "type": "quantitative", "scale": {"domain": [-7, 11.7], "nice": false, "zero": false},
                      "axis": {"title": "Ranked List Metric", "values": [-5, 0, 5, 10], "labelFontSize": 5.5, "titleFontSize": 6.5, "tickSize": 2, "domainColor": "#333", "labelColor": "#4D4D4D", "titlePadding": 3}},
                "y2": {"datum": 0}
              }
            }
          ]
        },
        {
          "title": {"text": "G", "fontSize": 22, "anchor": "start", "frame": "bounds", "dx": -22, "offset": -10},
          "spacing": 0, "bounds": "flush",
          "resolve": {"scale": {"color": "independent"}},
          "vconcat": [
            {
              "title": {"text": "CYTOKINE_CYTOKINE_RECEPTOR_INTERACTION", "fontSize": 10.5, "frame": "group", "offset": -3},
              "width": 289, "height": 106,
              "data": {"name": "esG"},
              "mark": {"type": "line", "color": "#EF4A2F", "strokeWidth": 1.3},
              "encoding": {
                "x": {"field": "rank", "type": "quantitative", "scale": {"domain": [0, 34700], "nice": false, "zero": false},
                      "axis": {"title": null, "labels": false, "ticks": false, "domain": false, "grid": true, "gridColor": "#E6E6E6", "values": [5000, 10000, 15000, 20000, 25000, 30000]}},
                "y": {"field": "es", "type": "quantitative", "scale": {"domain": [-0.047, 0.697], "nice": false, "zero": false},
                      "axis": {"title": "Running Enrichment Score", "values": [0, 0.2, 0.4, 0.6], "format": ".1f", "labelFontSize": 5.5, "titleFontSize": 6.5, "tickSize": 2, "domainColor": "#333", "labelColor": "#4D4D4D", "titlePadding": 3}}
              }
            },
            {
              "width": 289, "height": 28,
              "data": {"name": "hitsG"},
              "mark": {"type": "rule", "color": "#000", "strokeWidth": 1.1},
              "encoding": {"x": {"field": "data", "type": "quantitative", "scale": {"domain": [0, 34700], "nice": false, "zero": false}, "axis": null}}
            },
            {
              "width": 289, "height": 11,
              "data": {"name": "stripG"},
              "mark": {"type": "rect"},
              "encoding": {
                "x": {"field": "start", "type": "quantitative", "scale": {"domain": [0, 34700], "nice": false, "zero": false}, "axis": null},
                "x2": {"field": "end"},
                "color": {"field": "level", "type": "quantitative", "scale": {"domain": [-1, -0.5, 0, 0.5, 1], "range": ["#1E62A8", "#8CBBDC", "#F2F2F8", "#F4A688", "#C8281E"]}, "legend": null}
              }
            },
            {
              "width": 289, "height": 56,
              "data": {"name": "metric"},
              "mark": {"type": "area", "color": "#C4C4C4"},
              "encoding": {
                "x": {"field": "rank", "type": "quantitative", "scale": {"domain": [0, 34700], "nice": false, "zero": false},
                      "axis": {"title": "Rank in Ordered Dataset", "values": [5000, 10000, 15000, 20000, 25000, 30000], "format": "d", "labelExpr": "datum.value % 10000 == 0 ? datum.label : ''", "labelFontSize": 5.5, "titleFontSize": 7, "tickSize": 2, "grid": true, "gridColor": "#E6E6E6", "domainColor": "#333", "labelColor": "#4D4D4D", "titlePadding": 2}},
                "y": {"field": "m", "type": "quantitative", "scale": {"domain": [-7, 11.7], "nice": false, "zero": false},
                      "axis": {"title": "Ranked List Metric", "values": [-5, 0, 5, 10], "labelFontSize": 5.5, "titleFontSize": 6.5, "tickSize": 2, "domainColor": "#333", "labelColor": "#4D4D4D", "titlePadding": 3}},
                "y2": {"datum": 0}
              }
            }
          ]
        }
      ]
    }
  ]
}
